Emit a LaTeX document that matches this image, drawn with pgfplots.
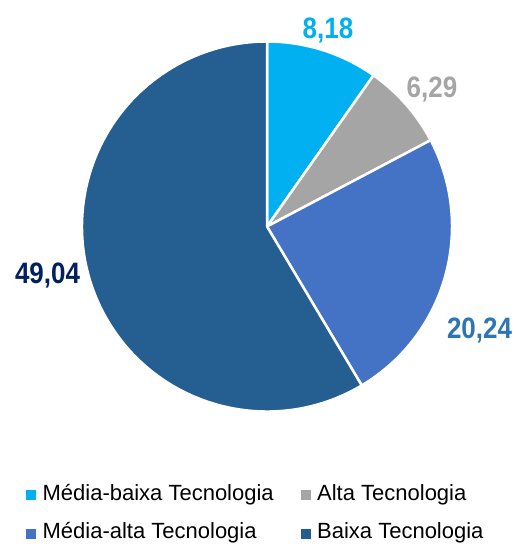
\documentclass[border=0pt]{standalone}
\usepackage{fontspec}
\setmainfont{Liberation Sans}
\newfontfamily\lblfont{Liberation Sans}[FakeStretch=0.88]
\usepackage{pgfplots}
\pgfplotsset{compat=1.18}
\usepackage{pgfplotstable}

\definecolor{cMB}{HTML}{00B0F0}
\definecolor{cAT}{HTML}{A5A5A5}
\definecolor{cMA}{HTML}{4472C4}
\definecolor{cBT}{HTML}{255E91}
\definecolor{tMA}{HTML}{2E75B6}
\definecolor{tBT}{HTML}{002060}

% slices, clockwise from 12 o'clock
\pgfplotstableread{
value col
8.18  cMB
6.29  cAT
20.24 cMA
49.04 cBT
}\piedata

% start/end angles of each slice
\gdef\pietotal{0}
\foreach \i in {0,1,2,3}{%
  \pgfplotstablegetelem{\i}{value}\of\piedata
  \pgfmathsetmacro\tmpsum{\pietotal+\pgfplotsretval}\global\let\pietotal\tmpsum
}
\gdef\piecum{0}
\foreach \i in {0,1,2,3}{%
  \pgfplotstablegetelem{\i}{value}\of\piedata \let\pval\pgfplotsretval
  \pgfplotstablegetelem{\i}{col}\of\piedata \expandafter\xdef\csname pcol\i\endcsname{\pgfplotsretval}%
  \pgfmathsetmacro\psa{90-360*(\piecum/\pietotal)}%
  \pgfmathsetmacro\pea{\psa-360*(\pval/\pietotal)}%
  \expandafter\xdef\csname psa\i\endcsname{\psa}%
  \expandafter\xdef\csname pea\i\endcsname{\pea}%
  \pgfmathsetmacro\tmpcum{\piecum+\pval}\global\let\piecum\tmpcum
}

\begin{document}
\begin{tikzpicture}
\begin{axis}[
    scale only axis,
    width=512pt, height=549pt,
    xmin=0, xmax=512, ymin=0, ymax=549,
    y dir=reverse,
    hide axis,
    clip=false,
    legend columns=2,
    legend cell align=left,
    legend style={at={(axis cs:23,482)}, anchor=north west,
        draw=none, fill=none,
        font=\fontsize{22}{24}\selectfont,
        nodes={inner sep=0pt, text height=16pt, text depth=5pt},
        column sep=7pt, row sep=17.5pt,
        /tikz/every even column/.append style={column sep=27pt}},
    legend image code/.code={\fill[#1] (0pt,-4.5pt) rectangle (9pt,4.5pt);},
]
\path (axis cs:0,0) rectangle (axis cs:512,549);

\pgfplotsextra{
  \foreach \i in {0,1,2,3}{
    \edef\piecmd{\noexpand\fill[\csname pcol\i\endcsname, draw=white, line width=2.5pt, line join=round]
      (axis cs:267,226.5) -- ++(\csname psa\i\endcsname:185pt)
      arc[start angle=\csname psa\i\endcsname, end angle=\csname pea\i\endcsname, radius=185pt] -- cycle;}
    \piecmd
  }
}

\node[anchor=base, text=cMB, font=\lblfont\bfseries\fontsize{29.5}{30}\selectfont] at (axis cs:328,38) {8,18};
\node[anchor=base, text=cAT, font=\lblfont\bfseries\fontsize{29.5}{30}\selectfont] at (axis cs:432,97) {6,29};
\node[anchor=base, text=tMA, font=\lblfont\bfseries\fontsize{29.5}{30}\selectfont] at (axis cs:479.5,338.5) {20,24};
\node[anchor=base, text=tBT, font=\lblfont\bfseries\fontsize{29.5}{30}\selectfont] at (axis cs:47.5,283) {49,04};

\addlegendimage{cMB}\addlegendentry{Média-baixa Tecnologia}
\addlegendimage{cAT}\addlegendentry{Alta Tecnologia}
\addlegendimage{cMA}\addlegendentry{Média-alta Tecnologia}
\addlegendimage{cBT}\addlegendentry{Baixa Tecnologia}
\end{axis}
\end{tikzpicture}
\end{document}
